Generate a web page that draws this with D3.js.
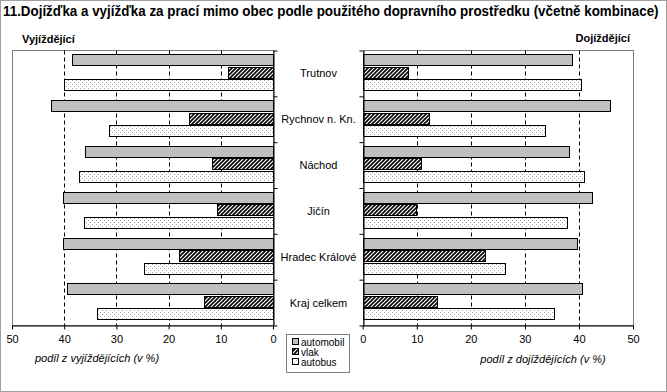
<!DOCTYPE html>
<html><head><meta charset="utf-8">
<script src="https://cdn.jsdelivr.net/npm/d3@7"></script>
<style>
html,body{margin:0;padding:0;background:#fff;}
svg{display:block;}
text{font-family:"Liberation Sans",Arial,sans-serif;fill:#000;}
</style></head>
<body><svg id="c" width="667" height="392"></svg>
<script>
const categories = ["Trutnov","Rychnov n. Kn.","Náchod","Jičín","Hradec Králové","Kraj celkem"];
const series = ["automobil","vlak","autobus"];
// Vyjíždějící (left), % share
const outAutomobil = [38.6, 42.5, 36.1, 40.2, 40.2, 39.4];
const outVlak      = [8.6, 16.0, 11.6, 10.7, 18.1, 13.2];
const outAutobus   = [40.0, 31.5, 37.1, 36.3, 24.7, 33.8];
// Dojíždějící (right), % share
const inAutomobil  = [38.8, 45.8, 38.2, 42.5, 39.7, 40.6];
const inVlak       = [8.4, 12.3, 10.8, 9.9, 22.7, 13.8];
const inAutobus    = [40.4, 33.8, 41.0, 37.8, 26.4, 35.3];
const xTicks = [0,10,20,30,40,50];
const titleText = "11.Dojížďka a vyjížďka za prací mimo obec podle použitého dopravního prostředku (včetně kombinace)";
const leftLabel = "Vyjíždějící", rightLabel = "Dojíždějící";
const leftAxisTitle = "podíl z vyjíždějících (v %)", rightAxisTitle = "podíl z dojíždějících (v %)";

const svg = d3.select("#c");
const defs = svg.append("defs");
const hatch = defs.append("pattern").attr("id","hatch").attr("patternUnits","userSpaceOnUse")
  .attr("width",4).attr("height",4);
hatch.append("rect").attr("width",4).attr("height",4).attr("fill","#fff");
hatch.append("path").attr("d","M-1,1 L1,-1 M0,4 L4,0 M3,5 L5,3").attr("stroke","#000").attr("stroke-width",1.6);
const dots = defs.append("pattern").attr("id","dots").attr("patternUnits","userSpaceOnUse")
  .attr("width",4).attr("height",4);
dots.append("rect").attr("width",4).attr("height",4).attr("fill","#fff");
dots.append("rect").attr("x",0).attr("y",0).attr("width",1).attr("height",1).attr("fill","#a8a8a8");
dots.append("rect").attr("x",2).attr("y",2).attr("width",1).attr("height",1).attr("fill","#a8a8a8");
const fills = {automobil:"#c0c0c0", vlak:"url(#hatch)", autobus:"url(#dots)"};

// outer frame
svg.append("rect").attr("x",0.5).attr("y",0.5).attr("width",666).attr("height",391)
  .attr("fill","none").attr("stroke","#a0a0a0");

// title (horizontally condensed to fit like a narrow font)
const title = svg.append("text").attr("x",0).attr("y",0).text(titleText)
  .style("font-weight","bold").style("font-size","14px");
const natural = title.node().getComputedTextLength();
const sx = Math.min(1, 656 / natural);
title.attr("transform", `translate(3,16) scale(${sx},1)`);

svg.append("text").attr("x",22).attr("y",43).text(leftLabel)
  .style("font-weight","bold").style("font-size","11px");
svg.append("text").attr("x",630).attr("y",42).attr("text-anchor","end").text(rightLabel)
  .style("font-weight","bold").style("font-size","11px");

const plotTop = 50.5, plotBottom = 325.5;
const y0 = d3.scaleBand().domain(categories).range([plotTop, plotBottom]).paddingInner(0).paddingOuter(0);
const y1 = d3.scaleBand().domain(series).range([0, y0.bandwidth()]).paddingInner(0).paddingOuter(0.34).align(0.45);
const yIdx = d3.scaleLinear().domain([0, categories.length]).range([plotTop, plotBottom]);

function drawPanel(xs, data, side) {
  const g = svg.append("g");
  const x0 = xs(0), x50 = xs(50);
  g.append("rect").attr("x", Math.round(Math.min(x0,x50))+0.5).attr("y", plotTop)
    .attr("width", Math.round(Math.abs(x50-x0))).attr("height", plotBottom-plotTop)
    .attr("fill","#fff").attr("stroke","#808080");
  g.selectAll("line.grid").data([10,20,30,40]).join("line")
    .attr("x1", d=>Math.round(xs(d))+0.5).attr("x2", d=>Math.round(xs(d))+0.5)
    .attr("y1", plotTop).attr("y2", plotBottom)
    .attr("stroke","#000").attr("stroke-dasharray","4,3");
  categories.forEach((c,i) => {
    series.forEach(s => {
      const v = data[s][i];
      const xa = Math.round(xs(v)), xb = Math.round(x0);
      g.append("rect")
        .attr("x", Math.min(xa,xb)+0.5)
        .attr("y", Math.round(y0(c)+y1(s))+0.5)
        .attr("width", Math.abs(xb-xa))
        .attr("height", Math.round(y1.bandwidth())-1)
        .attr("fill", fills[s]).attr("stroke","#000").attr("stroke-width",1);
    });
  });
  const ax = g.append("g").attr("transform",`translate(0,${plotBottom})`)
    .call(d3.axisBottom(xs).tickValues(xTicks).tickSize(4).tickPadding(6).tickSizeOuter(0));
  ax.select(".domain").attr("stroke","#000");
  ax.selectAll("text").style("font-family","'Liberation Sans Narrow','Arial Narrow',sans-serif").style("font-size","11px");
  const cx = Math.round(x0)+0.5;
  const ca = g.append("g").attr("transform",`translate(${cx},0)`)
    .call((side==="left"?d3.axisRight(yIdx):d3.axisLeft(yIdx)).tickValues(d3.range(categories.length+1)).tickSize(4).tickSizeOuter(0).tickFormat(""));
  ca.select(".domain").attr("stroke","#000");
}

const xL = d3.scaleLinear().domain([0,50]).range([273, 12]);
const xR = d3.scaleLinear().domain([0,50]).range([362.7, 633]);
drawPanel(xL, {automobil:outAutomobil, vlak:outVlak, autobus:outAutobus}, "left");
drawPanel(xR, {automobil:inAutomobil, vlak:inVlak, autobus:inAutobus}, "right");

svg.selectAll("text.cat").data(categories).join("text").attr("class","cat")
  .attr("x",318.5).attr("y", d=>y0(d)+y0.bandwidth()/2+4)
  .attr("text-anchor","middle").style("font-size","11px").text(d=>d);

svg.append("text").attr("x",97).attr("y",362).attr("text-anchor","middle")
  .style("font-style","italic").style("font-size","11px").text(leftAxisTitle);
svg.append("text").attr("x",543).attr("y",363).attr("text-anchor","middle")
  .style("font-style","italic").style("font-size","11px").text(rightAxisTitle);

const lg = svg.append("g");
lg.append("rect").attr("x",286.5).attr("y",334.5).attr("width",63).attr("height",38)
  .attr("fill","#fff").attr("stroke","#808080");
const ly = d3.scalePoint().domain(series).range([342, 362]);
series.forEach(s => {
  lg.append("rect").attr("x",292.5).attr("y",Math.round(ly(s))-3.5).attr("width",6).attr("height",6)
    .attr("fill",fills[s]).attr("stroke","#000");
  lg.append("text").attr("x",301).attr("y",ly(s)+3.5).style("font-size","10px").text(s);
});
</script></body></html>
